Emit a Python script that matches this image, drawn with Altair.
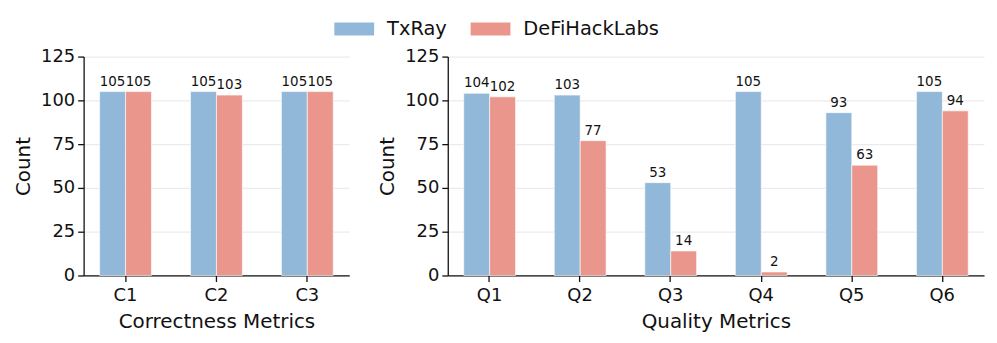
import altair as alt
import pandas as pd

series = ["TxRay", "DeFiHackLabs"]
colors = ["#91B8D8", "#EB968D"]

corr_cats = ["C1", "C2", "C3"]
corr_txray = [105, 105, 105]
corr_defi = [105, 103, 105]

qual_cats = ["Q1", "Q2", "Q3", "Q4", "Q5", "Q6"]
qual_txray = [104, 103, 53, 105, 93, 105]
qual_defi = [102, 77, 14, 2, 63, 94]

FONT = "DejaVu Sans"


def make_df(cats, a, b):
    rows = []
    for c, va, vb in zip(cats, a, b):
        rows.append({"cat": c, "series": series[0], "value": va})
        rows.append({"cat": c, "series": series[1], "value": vb})
    return pd.DataFrame(rows)


def panel(df, cats, title, width):
    x = alt.X("cat:N", sort=cats, title=title,
              scale=alt.Scale(paddingInner=0.43, paddingOuter=0.1765),
              axis=alt.Axis(labelAngle=0, grid=False))
    xo = alt.XOffset("series:N", sort=series,
                     scale=alt.Scale(domain=series, paddingInner=0, paddingOuter=0))
    y = alt.Y("value:Q", title="Count",
              scale=alt.Scale(domain=[0, 125], nice=False),
              axis=alt.Axis(values=[0, 25, 50, 75, 100, 125], grid=True))
    color = alt.Color("series:N", sort=series,
                      scale=alt.Scale(domain=series, range=colors),
                      legend=alt.Legend(title=None, orient="none", direction="horizontal",
                                        legendX=262, legendY=-38))
    bars = alt.Chart(df).mark_bar(stroke="white", strokeWidth=0.6).encode(
        x=x, xOffset=xo, y=y, color=color)
    labels = alt.Chart(df).mark_text(baseline="bottom", dy=-3, fontSize=13.5,
                                     font=FONT, color="#111111").encode(
        x=x, xOffset=xo, y=y, text="value:Q")
    return alt.layer(bars, labels).properties(width=width, height=220)


left = panel(make_df(corr_cats, corr_txray, corr_defi), corr_cats, "Correctness Metrics", 267)
right = panel(make_df(qual_cats, qual_txray, qual_defi), qual_cats, "Quality Metrics", 539)

chart = alt.hconcat(left, right, spacing=28).resolve_scale(color="shared").configure_view(
    stroke=None
).configure_axis(
    labelFont=FONT, titleFont=FONT, labelFontSize=18, titleFontSize=20,
    titleFontWeight="normal", labelColor="#111111", titleColor="#111111",
    domainColor="#111111", domainWidth=1.3, tickColor="#111111", tickWidth=1.3,
    tickSize=6, labelPadding=3, gridColor="#ebebeb", gridWidth=1.2,
).configure_axisY(titlePadding=7).configure_axisX(titlePadding=7, labelPadding=5).configure_legend(
    labelFont=FONT, labelFontSize=19.5, labelColor="#111111",
    symbolType="M-2,-0.65H2V0.65H-2Z", symbolSize=400, symbolStrokeWidth=0,
    symbolOpacity=1, labelOffset=23, columnPadding=23,
).properties(padding={"left": 5, "top": 10, "right": 5, "bottom": 5})

chart.save("out.html", embed_options={"renderer": "svg", "actions": False})
